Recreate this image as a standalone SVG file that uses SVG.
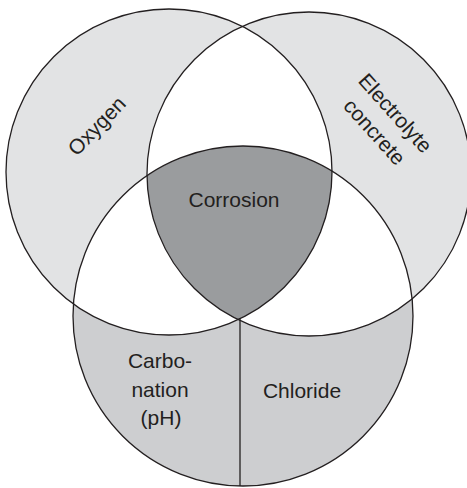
<svg xmlns="http://www.w3.org/2000/svg" width="467" height="488" viewBox="0 0 467 488">
<style>
.lbl{font-family:"Liberation Sans",Arial,sans-serif;font-size:21px;fill:#231f20;text-anchor:middle}
.edge{fill:none;stroke:#231f20;stroke-width:1.3}
</style>
<defs>
<clipPath id="cL"><circle cx="169" cy="172" r="163"/></clipPath>
<clipPath id="cR"><circle cx="309" cy="174" r="162"/></clipPath>
<clipPath id="cB"><circle cx="243" cy="316" r="170"/></clipPath>
</defs>
<rect width="467" height="488" fill="#ffffff"/>
<g id="fills">
<circle cx="169" cy="172" r="163" fill="#e2e3e4"/>
<circle cx="309" cy="174" r="162" fill="#e2e3e4"/>
<circle cx="243" cy="316" r="170" fill="#cdced0"/>
<circle cx="169" cy="172" r="163" fill="#ffffff" clip-path="url(#cR)"/>
<circle cx="169" cy="172" r="163" fill="#ffffff" clip-path="url(#cB)"/>
<circle cx="309" cy="174" r="162" fill="#ffffff" clip-path="url(#cB)"/>
<g clip-path="url(#cB)"><circle cx="169" cy="172" r="163" fill="#9a9c9e" clip-path="url(#cR)"/></g>
</g>
<g id="oxygen">
<circle class="edge" cx="169" cy="172" r="163"/>
<text class="lbl" transform="translate(102,131) rotate(-46)">Oxygen</text>
</g>
<g id="electrolyte">
<circle class="edge" cx="309" cy="174" r="162"/>
<text class="lbl" transform="translate(390,118) rotate(48)"><tspan x="0" y="0">Electrolyte</tspan><tspan x="0" y="28">concrete</tspan></text>
</g>
<g id="bottom">
<circle class="edge" cx="243" cy="316" r="170"/>
</g>
<g id="corrosion">
<text class="lbl" x="234" y="207">Corrosion</text>
</g>
<g id="carbonation">
<text class="lbl"><tspan x="160" y="368">Carbo-</tspan><tspan x="160" y="397">nation</tspan><tspan x="161" y="425">(pH)</tspan></text>
</g>
<g id="chloride">
<text class="lbl" x="302" y="398">Chloride</text>
</g>
<g id="connectors">
<line class="edge" x1="240" y1="318" x2="240" y2="486"/>
</g>
</svg>
